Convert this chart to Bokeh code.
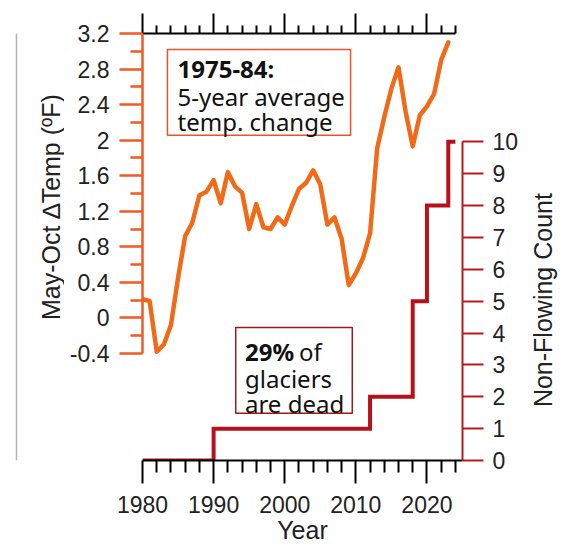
import math
from bokeh.plotting import figure
from bokeh.layouts import row
from bokeh.models import Range1d, LinearAxis, FixedTicker, Label, BoxAnnotation, Span
from bokeh.embed import file_html
from bokeh.resources import INLINE

# ---- data ----
temp_years = list(range(1980, 2024))
temp_change = [0.21, 0.19, -0.38, -0.30, -0.08, 0.45, 0.92, 1.07, 1.38, 1.42,
               1.55, 1.29, 1.64, 1.48, 1.41, 1.00, 1.28, 1.02, 1.00, 1.13,
               1.05, 1.26, 1.45, 1.52, 1.66, 1.50, 1.05, 1.13, 0.89, 0.37,
               0.50, 0.67, 0.95, 1.91, 2.26, 2.58, 2.82, 2.32, 1.93, 2.28,
               2.38, 2.52, 2.90, 3.10]

count_years = [1980, 1990, 2012, 2018, 2020, 2023, 2024]
count_values = [0, 1, 2, 5, 8, 10, 10]

year_ticks = [1980, 1990, 2000, 2010, 2020]
year_minor = [1982, 1984, 1986, 1988, 1992, 1994, 1996, 1998, 2002, 2004,
              2006, 2008, 2012, 2014, 2016, 2018, 2022, 2024]
temp_ticks = [-0.4, 0.0, 0.4, 0.8, 1.2, 1.6, 2.0, 2.4, 2.8, 3.2]
temp_tick_labels = ["-0.4", "0", "0.4", "0.8", "1.2", "1.6", "2", "2.4", "2.8", "3.2"]
temp_minor = [-0.2, 0.2, 0.6, 1.0, 1.4, 1.8, 2.2, 2.6, 3.0]
count_ticks = [0, 1, 2, 3, 4, 5, 6, 7, 8, 9, 10]

ORANGE = "#F06A18"
ORANGE_AX = "#F05A24"
RED = "#B5121B"
RED_AX = "#B71C1C"
AX_FONT = "Liberation Sans"
TXT_FONT = "Noto Sans"
TXT_SIZE = "24px"
TICK_SIZE = "23px"
TITLE_SIZE = "25px"
H = 546
LEFT_W, RIGHT_W = 64, 42
TEMP_RANGE = (-1.605, 3.2)

p = figure(width=458, height=H,
           x_range=Range1d(1980, 2025), y_range=Range1d(*TEMP_RANGE),
           output_backend="svg", toolbar_location=None,
           x_axis_location=None, y_axis_location=None,
           min_border_left=78, min_border_right=60,
           min_border_top=33, min_border_bottom=86)
p.extra_y_ranges = {"count": Range1d(0, 13.4)}
p.outline_line_color = None
p.xgrid.visible = False
p.ygrid.visible = False
p.background_fill_color = "white"
p.border_fill_color = "white"

# left axis (temperature)
ly = LinearAxis(bounds=(-0.4, 3.2),
                ticker=FixedTicker(ticks=temp_ticks, minor_ticks=temp_minor))
ly.major_label_overrides = {t: s for t, s in zip(temp_ticks, temp_tick_labels)}
for attr in ("axis_line_color", "major_tick_line_color", "minor_tick_line_color"):
    setattr(ly, attr, ORANGE_AX)
ly.axis_line_width = 2.5
ly.major_tick_line_width = 2.5
ly.minor_tick_line_width = 2.5
ly.major_tick_out = 23
ly.major_tick_in = 0
ly.minor_tick_out = 12
ly.minor_tick_in = 0
ly.major_label_text_font = AX_FONT
ly.major_label_text_font_size = TICK_SIZE
ly.major_label_text_color = "#222222"
ly.major_label_standoff = 10
p.add_layout(ly, "left")

# right axis (count)
ry = LinearAxis(y_range_name="count", bounds=(0, 10),
                ticker=FixedTicker(ticks=count_ticks, minor_ticks=[]))
for attr in ("axis_line_color", "major_tick_line_color"):
    setattr(ry, attr, RED_AX)
ry.minor_tick_line_color = None
ry.axis_line_width = 2
ry.major_tick_line_width = 2
ry.major_tick_out = 21
ry.major_tick_in = 0
ry.major_label_text_font = AX_FONT
ry.major_label_text_font_size = TICK_SIZE
ry.major_label_text_color = "#222222"
ry.major_label_standoff = 9
p.add_layout(ry, "right")

# top axis (ticks only)
tx = LinearAxis(bounds=(1980, 2024),
                ticker=FixedTicker(ticks=year_ticks, minor_ticks=year_minor))
tx.major_label_overrides = {t: "" for t in year_ticks}
tx.axis_line_color = "black"
tx.axis_line_width = 2
tx.major_tick_line_color = "black"
tx.major_tick_line_width = 2
tx.minor_tick_line_color = "black"
tx.minor_tick_line_width = 2
tx.major_tick_out = 20
tx.major_tick_in = 0
tx.minor_tick_out = 8
tx.minor_tick_in = 0
tx.major_label_standoff = 0
p.add_layout(tx, "above")

# bottom axis (year)
bx = LinearAxis(bounds=(1980, 2025),
                ticker=FixedTicker(ticks=year_ticks, minor_ticks=year_minor),
                axis_label="Year")
bx.axis_line_color = "black"
bx.axis_line_width = 2
bx.major_tick_line_color = "black"
bx.major_tick_line_width = 2
bx.minor_tick_line_color = "black"
bx.minor_tick_line_width = 2
bx.major_tick_out = 23
bx.major_tick_in = 0
bx.minor_tick_out = 12
bx.minor_tick_in = 0
bx.major_label_text_font = AX_FONT
bx.major_label_text_font_size = TICK_SIZE
bx.major_label_text_color = "#222222"
bx.major_label_standoff = 12
bx.axis_label_text_font = AX_FONT
bx.axis_label_text_font_size = TITLE_SIZE
bx.axis_label_text_font_style = "normal"
bx.axis_label_text_color = "#222222"
bx.axis_label_standoff = 0
p.add_layout(bx, "below")

# series
p.line(temp_years, temp_change, line_color=ORANGE, line_width=4.5,
       line_join="round", line_cap="round")
p.step(count_years, count_values, mode="after", y_range_name="count",
       line_color=RED, line_width=4, line_join="miter")

# annotation boxes
p.add_layout(BoxAnnotation(left=1983.51, right=2009.26, top=3.02, bottom=2.056,
                           fill_color="white", fill_alpha=1.0,
                           line_color="#E8552A", line_alpha=1.0, line_width=1.5))
p.add_layout(BoxAnnotation(left=1993.11, right=2009.50, top=-0.107, bottom=-1.074,
                           fill_color="white", fill_alpha=1.0,
                           line_color="#A01818", line_alpha=1.0, line_width=1.5))

def lab(x, y, text, bold=False):
    p.add_layout(Label(x=x, y=y, text=text, text_font=TXT_FONT,
                       text_font_size=TXT_SIZE,
                       text_font_style="bold" if bold else "normal",
                       text_color="#111111", text_align="left",
                       text_baseline="alphabetic"))

lab(1984.92, 2.810, "1975-84:", bold=True)
lab(1984.92, 2.489, "5-year average")
lab(1984.92, 2.213, "temp. change")
lab(1994.41, -0.382, "29%", bold=True)
lab(2002.0, -0.382, "of")
lab(1994.41, -0.677, "glaciers")
lab(1994.41, -0.964, "are dead")

# side strips holding the vertical axis titles (frames line up with the main frame)
def strip(w):
    s = figure(width=w, height=H, x_range=Range1d(0, w), y_range=Range1d(*TEMP_RANGE),
               output_backend="svg", toolbar_location=None,
               x_axis_location=None, y_axis_location=None,
               min_border_left=0, min_border_right=0,
               min_border_top=33, min_border_bottom=86)
    s.outline_line_color = None
    s.grid.visible = False
    s.background_fill_color = "white"
    s.border_fill_color = "white"
    return s

left = strip(LEFT_W)
left.add_layout(Span(location=16, dimension="height", line_color="#B4B4B4",
                     line_width=1.5))
left.add_layout(Label(x=50, y=1.246, text="May-Oct \u2206Temp (\u00baF)",
                      angle=math.pi / 2, text_align="center", text_baseline="middle",
                      text_font=AX_FONT, text_font_size=TITLE_SIZE,
                      text_color="#222222"))

right = strip(RIGHT_W)
right.add_layout(Label(x=20, y=0.20, text="Non-Flowing Count",
                       angle=math.pi / 2, text_align="center", text_baseline="middle",
                       text_font=AX_FONT, text_font_size=TITLE_SIZE,
                       text_color="#222222"))

layout = row(left, p, right, spacing=0)
open("out.html", "w").write(file_html(layout, INLINE))
